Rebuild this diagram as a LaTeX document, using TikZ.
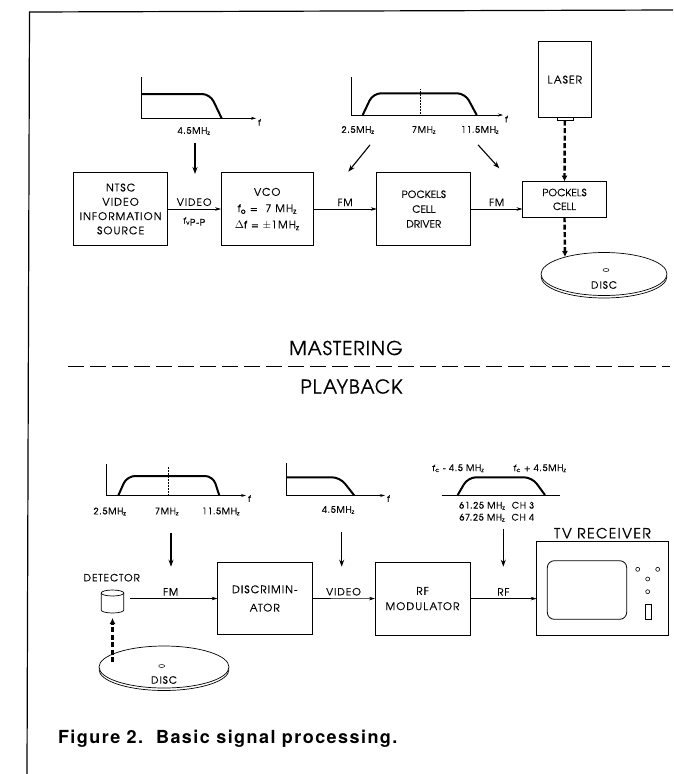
\documentclass[tikz,border=0pt]{standalone}
\usepackage{fontspec}
\usepackage{tikz}
\usetikzlibrary{arrows.meta,positioning,shapes.geometric}
\newfontfamily\diafont[LetterSpace=10,FakeBold=0.5]{texgyreadventor-regular.otf}
\newfontfamily\tightfont[LetterSpace=1,FakeBold=0.5]{texgyreadventor-regular.otf}
\newfontfamily\smallfont[LetterSpace=8,FakeBold=0.5]{texgyreadventor-regular.otf}
\newfontfamily\headfont[LetterSpace=5,FakeBold=0.4]{texgyreadventor-regular.otf}
\newfontfamily\capfont[LetterSpace=8]{TeX Gyre Heros}

\begin{document}
\begin{tikzpicture}[x=1pt,y=-1pt,every node/.style={outer sep=0pt},
        blk/.style={draw,line width=0.8pt,align=center,inner sep=0pt,
            font=\diafont\fontsize{10.5}{14.3}\selectfont},
        tblk/.style={blk,font=\tightfont\fontsize{10}{14.8}\selectfont},
        lbl/.style={font=\diafont\fontsize{10}{12}\selectfont,inner sep=1pt},
        freq/.style={font=\smallfont\fontsize{9}{11}\selectfont,inner sep=1pt},
        headline/.style={font=\headfont\fontsize{19}{22}\selectfont,inner sep=0pt},
        faxis/.style={line width=0.7pt},
        resp/.style={line width=2pt,rounded corners=8pt},
        sig/.style={line width=0.6pt,-{Stealth[length=6pt,width=3.5pt]}},
        feed/.style={line width=1.1pt,-{Stealth[length=7pt,width=5pt]}},
        beam/.style={line width=2.4pt,dash pattern=on 5pt off 2.5pt,
            -{Latex[length=6pt,width=6pt]}},
        disk/.style={draw,ellipse,line width=0.7pt,inner sep=0pt}]

    \useasboundingbox (0,0) rectangle (673,774);
    % Frame
    \draw[line width=1.2pt] (27,774) -- (29.5,12) -- (673,10);

    % Video spectrum
    \draw[faxis,-{Stealth[length=5pt,width=3pt]}] (141.7,77) -- (141.7,118.3) -- (256,118.3) node[freq,right=1pt,yshift=-4pt] (f1) {f};
    \draw[resp] (141.7,94) -- (210,94) -- (221.7,118.3);
    \node[freq] (lp1) at (194,131) {4.5MH\textsubscript{z}};
    % FM spectrum
    \draw[faxis,-{Stealth[length=5pt,width=3pt]}] (351,77) -- (351,115) -- (503,115) node[freq,right=1pt,yshift=-4pt] (f2) {f};
    \draw[densely dotted,line width=0.5pt] (420,115) -- (420,88);
    \draw[resp] (362.7,115) -- (373,93.3) -- (465,93.3) -- (476.7,115);
    \node[freq] (lo1) at (358,130) {2.5MH\textsubscript{z}};
    \node[freq] (mid1) at (424,130) {7MH\textsubscript{z}};
    \node[freq] (hi1) at (480,130) {11.5MH\textsubscript{z}};

    % Mastering chain
    \node[blk,minimum width=93.6,minimum height=72.5] (src) at (120.6,209) {NTSC\\VIDEO\\INFORMATION\\SOURCE};
    \node[blk,minimum width=92.3,minimum height=72.5] (vco) at (267.2,209) {VCO\\[2pt]f\textsubscript{o} = \ 7 MH\textsubscript{z}\\[2pt]$\Delta$f = $\pm$1MH\textsubscript{z}};
    \node[tblk,minimum width=94,minimum height=72.5] (drv) at (423.8,209) {POCKELS\\CELL\\DRIVER};
    \node[tblk,minimum width=84,minimum height=35.6] (pcl) at (564.5,199.4) {POCKELS\\[-1pt]CELL};
    \node[blk,minimum width=52.8,minimum height=76] (lsr) at (564.8,79.6) {LASER};
    % Master disc
    \node[disk,minimum width=126,minimum height=43] (dsk1) at (604,274) {};
    \draw[line width=0.7pt] ([yshift=-2.5pt]dsk1.west) arc[start angle=180,end angle=360,x radius=63pt,y radius=21.5pt];
    \draw[line width=0.5pt] ([shift={(2,-4)}]dsk1.center) ellipse (3 and 1.5);
    \node[lbl] (dl1) at ([yshift=-11pt]dsk1.center) {DISC};

    \coordinate (v1) at (195,174);
    \coordinate (fm1) at (348.3,171.7);
    \coordinate (fm2) at (499.3,168.3);
    \coordinate (spot1) at (565,257);
    \draw[feed,shorten <=7pt] ([xshift=1pt]lp1.south) -- (v1);
    \draw[feed] ([xshift=12pt,yshift=-10pt]lo1.south) -- (fm1);
    \draw[feed] ([xshift=-2pt,yshift=-10pt]hi1.south) -- (fm2);
    \draw[sig] (src) -- (vco) node[lbl,midway,above=2pt] (vid1) {VIDEO}
        node[freq,midway,below=7pt] (fvpp) {f\textsubscript{v}\raisebox{-2pt}{P-P}};
    \draw[sig] (vco) -- (drv) node[lbl,midway,above=2pt] (fmt1) {FM};
    \draw[sig] (drv.east) -- (drv.east-|pcl.west) node[lbl,midway,above=2pt] (fmt2) {FM};
    \draw[line width=0.6pt] ([xshift=-8pt]lsr.south) rectangle ([xshift=8pt,yshift=-3pt]lsr.south);
    \draw[beam] ([yshift=-3pt]lsr.south) -- (pcl.north);
    \draw[beam] (pcl.south) -- (spot1);

    % Divider
    \node[headline] (mst) at (346,348) {MASTERING};
    \draw[line width=1.2pt,dash pattern=on 16pt off 6pt] (67.8,366.5) -- (669.5,366.5);
    \node[headline] (pbk) at (351.5,386.5) {PLAYBACK};

    % FM spectrum (playback)
    \draw[faxis,-{Stealth[length=5pt,width=3pt]}] (106.5,464) -- (106.5,495.5) -- (246,495.5) node[freq,right=1pt,yshift=-3pt] (f3) {f};
    \draw[densely dotted,line width=0.5pt] (168.5,495.5) -- (168.5,466);
    \draw[resp] (118.3,495.5) -- (127,476) -- (213,476) -- (219.3,495.5);
    \node[freq] (lo2) at (110,511.5) {2.5MH\textsubscript{z}};
    \node[freq] (mid2) at (167,511.5) {7MH\textsubscript{z}};
    \node[freq] (hi2) at (221,511.5) {11.5MH\textsubscript{z}};
    % Video spectrum (playback)
    \draw[faxis,-{Stealth[length=5pt,width=3pt]}] (286.7,463.3) -- (286.7,495.5) -- (385,495.5) node[freq,right=1pt,yshift=-3pt] (f4) {f};
    \draw[resp] (286.7,477.3) -- (340,477.3) -- (354.3,495.5);
    \node[freq] (lp2) at (338.3,510) {4.5MH\textsubscript{z}};
    % RF spectrum
    \draw[faxis] (441.7,495) -- (560,495);
    \draw[resp] (457.7,495) -- (468,477.3) -- (532,477.3) -- (545,495);
    \node[freq] (fcl) at (458.3,468.3) {f\textsubscript{c} - 4.5 MH\textsubscript{z}};
    \node[freq] (fch) at (540,468.3) {f\textsubscript{c} + 4.5MH\textsubscript{z}};
    \node[freq,align=center,font=\smallfont\fontsize{9}{12}\selectfont] (chn) at (496.7,511.7) {61.25 MH\textsubscript{z} \ CH 3\\67.25 MH\textsubscript{z} \ CH 4};

    % Playback chain
    \node[lbl] (detl) at (111.7,577.7) {DETECTOR};
    \node[minimum width=22.6,minimum height=17,inner sep=0pt] (det) at (112.5,601.5) {};
    \draw[line width=0.7pt] (det.north west) -- (det.south west) arc[start angle=180,end angle=360,x radius=11.3pt,y radius=3pt] -- (det.north east);
    \draw[line width=0.7pt] (det.north) ellipse (11.3pt and 3pt);
    \node[blk,minimum width=94.5,minimum height=72] (dis) at (264.8,598.5) {DISCRIMIN-\\[4pt]ATOR};
    \node[blk,minimum width=95,minimum height=72.7] (mod) at (422.5,598.6) {RF\\[1pt]MODULATOR};
    \node[blk,minimum width=131.6,minimum height=93.5] (tv) at (602.5,588.3) {};
    \node[lbl,font=\diafont\fontsize{14}{16}\selectfont,above=2pt of tv] (tvl) {TV RECEIVER};
    % TV screen and knobs
    \draw[line width=0.8pt,rounded corners=7pt] (547.3,560.7) rectangle (626.7,619.3);
    \foreach \kx/\ky in {637.7/569.3,657.7/569.3,647.7/579,647.7/591.7}
        \draw[line width=0.6pt] (\kx,\ky) circle (2);
    \draw[line width=0.6pt] (645,604) rectangle (651.7,619.3);
    % Playback disc
    \node[disk,minimum width=130,minimum height=42] (dsk2) at (164,667) {};
    \draw[line width=0.7pt] ([yshift=-2.5pt]dsk2.west) arc[start angle=180,end angle=360,x radius=65pt,y radius=21pt];
    \draw[line width=0.5pt] ([shift={(-2.3,-1)}]dsk2.center) ellipse (3 and 1.5);
    \node[lbl] (dl2) at ([yshift=-13pt]dsk2.center) {DISC};

    \coordinate (v2) at (171,566.7);
    \coordinate (v3) at (341.7,566.7);
    \coordinate (rf1) at (503.3,566.7);
    \coordinate (spot2) at (112.5,662);
    \draw[feed,shorten <=17pt] ([xshift=4pt]mid2.south) -- (v2);
    \draw[feed,shorten <=17pt] ([xshift=3.4pt]lp2.south) -- (v3);
    \draw[feed,shorten <=6pt] ([xshift=6.6pt]chn.south) -- (rf1);
    \draw[beam,shorten >=8pt] (spot2) -- (det.south);
    \draw[sig,shorten <=6pt] (det.east|-dis.west) -- (dis.west) node[lbl,midway,above=2pt] (fmt3) {FM};
    \draw[sig] (dis) -- (mod) node[lbl,midway,above=2pt] (vid2) {VIDEO};
    \draw[sig] (mod.east) -- (mod.east-|tv.west) node[lbl,midway,above=2pt] (rft) {RF};

    % Caption
    \node[anchor=base west,inner sep=0pt,font=\capfont\bfseries\fontsize{18}{20}\selectfont] (cap) at (58,743.5) {Figure 2.\ \ Basic signal processing.};
\end{tikzpicture}
\end{document}
